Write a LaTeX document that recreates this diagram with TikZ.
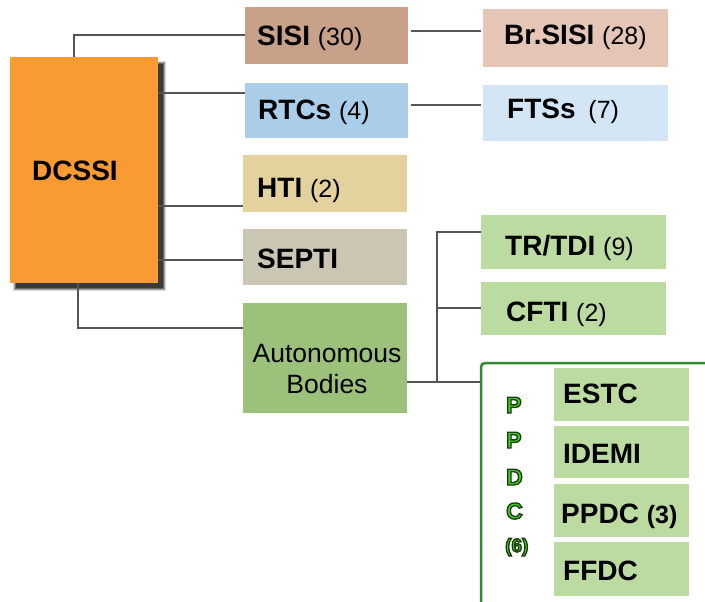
\documentclass[tikz,border=0pt]{standalone}
\usepackage{fontspec}
\setmainfont{Liberation Sans}
\definecolor{corange}{HTML}{F99A32}
\definecolor{csisi}{HTML}{C9A188}
\definecolor{cbrsisi}{HTML}{E5C6B6}
\definecolor{crtcs}{HTML}{AACDEA}
\definecolor{cftss}{HTML}{D3E6F6}
\definecolor{chti}{HTML}{E4D29E}
\definecolor{csepti}{HTML}{CAC6B3}
\definecolor{cauto}{HTML}{9CC17A}
\definecolor{clgreen}{HTML}{BCDBA0}
\definecolor{cpborder}{HTML}{2F8A2F}
\definecolor{cpletter}{HTML}{3CD01A}
\definecolor{linegray}{HTML}{555555}
\newcommand\numtxt[1]{{\fontsize{25}{29}\selectfont\mdseries #1}}
\newcommand\pltr[1]{\textcolor{cpletter}{\special{pdf:literal direct 0.24 0.82 0.10 rg 0.10 0.22 0.05 RG 1.3 w 2 Tr}#1\special{pdf:literal direct 0 Tr}}}
\begin{document}
\begin{tikzpicture}[x=1pt,y=-1pt,
  boxnode/.style={rectangle, inner sep=0pt, outer sep=0pt, anchor=north west, draw=none},
  lbl/.style={anchor=base west, inner sep=0pt, font=\fontsize{28}{32}\selectfont\bfseries},
  plainlbl/.style={anchor=base, inner sep=0pt, font=\fontsize{26.5}{30}\selectfont},
  pl/.style={anchor=base west, inner sep=0pt, font=\fontsize{23}{27}\selectfont\bfseries},
  conn/.style={draw=linegray, line width=1.9pt},
  shadowlayer/.style={fill=black, draw=none}]
\useasboundingbox (0,0) rectangle (705,602);

% soft shadow of the main box
\fill[shadowlayer, opacity=0.15] (13,61) rectangle (166,291);
\fill[shadowlayer, opacity=0.25] (14,62) rectangle (165,290);
\fill[shadowlayer, opacity=0.35] (15,63) rectangle (164,289);
\fill[shadowlayer, opacity=0.45] (16,64) rectangle (163,288);

% main box
\node[boxnode, fill=corange, minimum width=148pt, minimum height=226pt] (dcssi) at (10,57) {};
\node[lbl] (dcssit) at (32,180) {DCSSI};

% second column
\node[boxnode, fill=csisi, minimum width=163pt, minimum height=57pt] (sisi) at (245,7) {};
\node[lbl] (sisit) at (257,45.5) {SISI \numtxt{(30)}};
\node[boxnode, fill=crtcs, minimum width=163pt, minimum height=55pt] (rtcs) at (245,83) {};
\node[lbl] (rtcst) at (258,120) {RTCs \numtxt{(4)}};
\node[boxnode, fill=chti, minimum width=164pt, minimum height=57pt] (hti) at (243,155) {};
\node[lbl] (htit) at (257,197) {HTI \numtxt{(2)}};
\node[boxnode, fill=csepti, minimum width=164pt, minimum height=56pt] (septi) at (243,229) {};
\node[lbl] (septit) at (257,268) {SEPTI};
\node[boxnode, fill=cauto, minimum width=164pt, minimum height=110pt] (auto) at (243,303) {};
\node[plainlbl] (autot1) at (327,362) {Autonomous};
\node[plainlbl] (autot2) at (327,393) {Bodies};

% third column
\node[boxnode, fill=cbrsisi, minimum width=185pt, minimum height=58pt] (brsisi) at (483,9) {};
\node[lbl] (brsisit) at (504,45) {Br.SISI \numtxt{(28)}};
\node[boxnode, fill=cftss, minimum width=185pt, minimum height=56pt] (ftss) at (483,85) {};
\node[lbl] (ftsst) at (507,119) {FTSs\hspace{5pt} \numtxt{(7)}};
\node[boxnode, fill=clgreen, minimum width=185pt, minimum height=54pt] (trtdi) at (481,215) {};
\node[lbl] (trtdit) at (505,255) {TR/TDI \numtxt{(9)}};
\node[boxnode, fill=clgreen, minimum width=185pt, minimum height=53pt] (cfti) at (481,282) {};
\node[lbl] (cftit) at (506,321) {CFTI \numtxt{(2)}};

% PPDC group
\begin{scope}
\clip (0,0) rectangle (705,602);
\node[boxnode, draw=cpborder, line width=2.5pt, rounded corners=4pt,
  minimum width=260pt, minimum height=280pt] (ppdcgrp) at (481,363) {};
\end{scope}
\node[boxnode, fill=clgreen, minimum width=135pt, minimum height=53pt] (estc) at (554,368) {};
\node[lbl] (estct) at (563,403) {ESTC};
\node[boxnode, fill=clgreen, minimum width=135pt, minimum height=52pt] (idemi) at (554,426) {};
\node[lbl] (idemit) at (563,463) {IDEMI};
\node[boxnode, fill=clgreen, minimum width=135pt, minimum height=53pt] (ppdc) at (554,484) {};
\node[lbl] (ppdct) at (561,523) {PPDC {\fontsize{25}{29}\selectfont(3)}};
\node[boxnode, fill=clgreen, minimum width=135pt, minimum height=54pt] (ffdc) at (554,542) {};
\node[lbl] (ffdct) at (563,580) {FFDC};

\node[pl] (pl1) at (506,413) {\pltr{P}};
\node[pl] (pl2) at (506,448) {\pltr{P}};
\node[pl] (pl3) at (506,485) {\pltr{D}};
\node[pl] (pl4) at (506,519) {\pltr{C}};
\node[pl, font=\fontsize{19}{23}\selectfont\bfseries] (pl5) at (505,552) {\pltr{(6)}};

% connectors
\draw[conn] ([xshift=64pt]dcssi.north west) |- (sisi.west |- 0,35);
\draw[conn] (dcssi.east |- 0,93) -- (rtcs.west |- 0,93);
\draw[conn] (dcssi.east |- 0,206) -- (hti.west |- 0,206);
\draw[conn] (dcssi.east |- 0,260) -- (septi.west |- 0,260);
\draw[conn] ([xshift=68pt]dcssi.south west) |- (auto.west |- 0,328);
\draw[conn] ([xshift=3pt]sisi.east |- 0,31) -- ([xshift=-2pt]brsisi.west |- 0,31);
\draw[conn] ([xshift=3pt]rtcs.east |- 0,105) -- ([xshift=-2pt]ftss.west |- 0,105);
\coordinate (bus) at (437,382);
\draw[conn] (auto.east |- bus) -- ([xshift=-1pt]ppdcgrp.west |- bus);
\draw[conn] (bus) |- (trtdi.west |- 0,232);
\draw[conn] (bus |- 0,308) -- (cfti.west |- 0,308);
\end{tikzpicture}
\end{document}
